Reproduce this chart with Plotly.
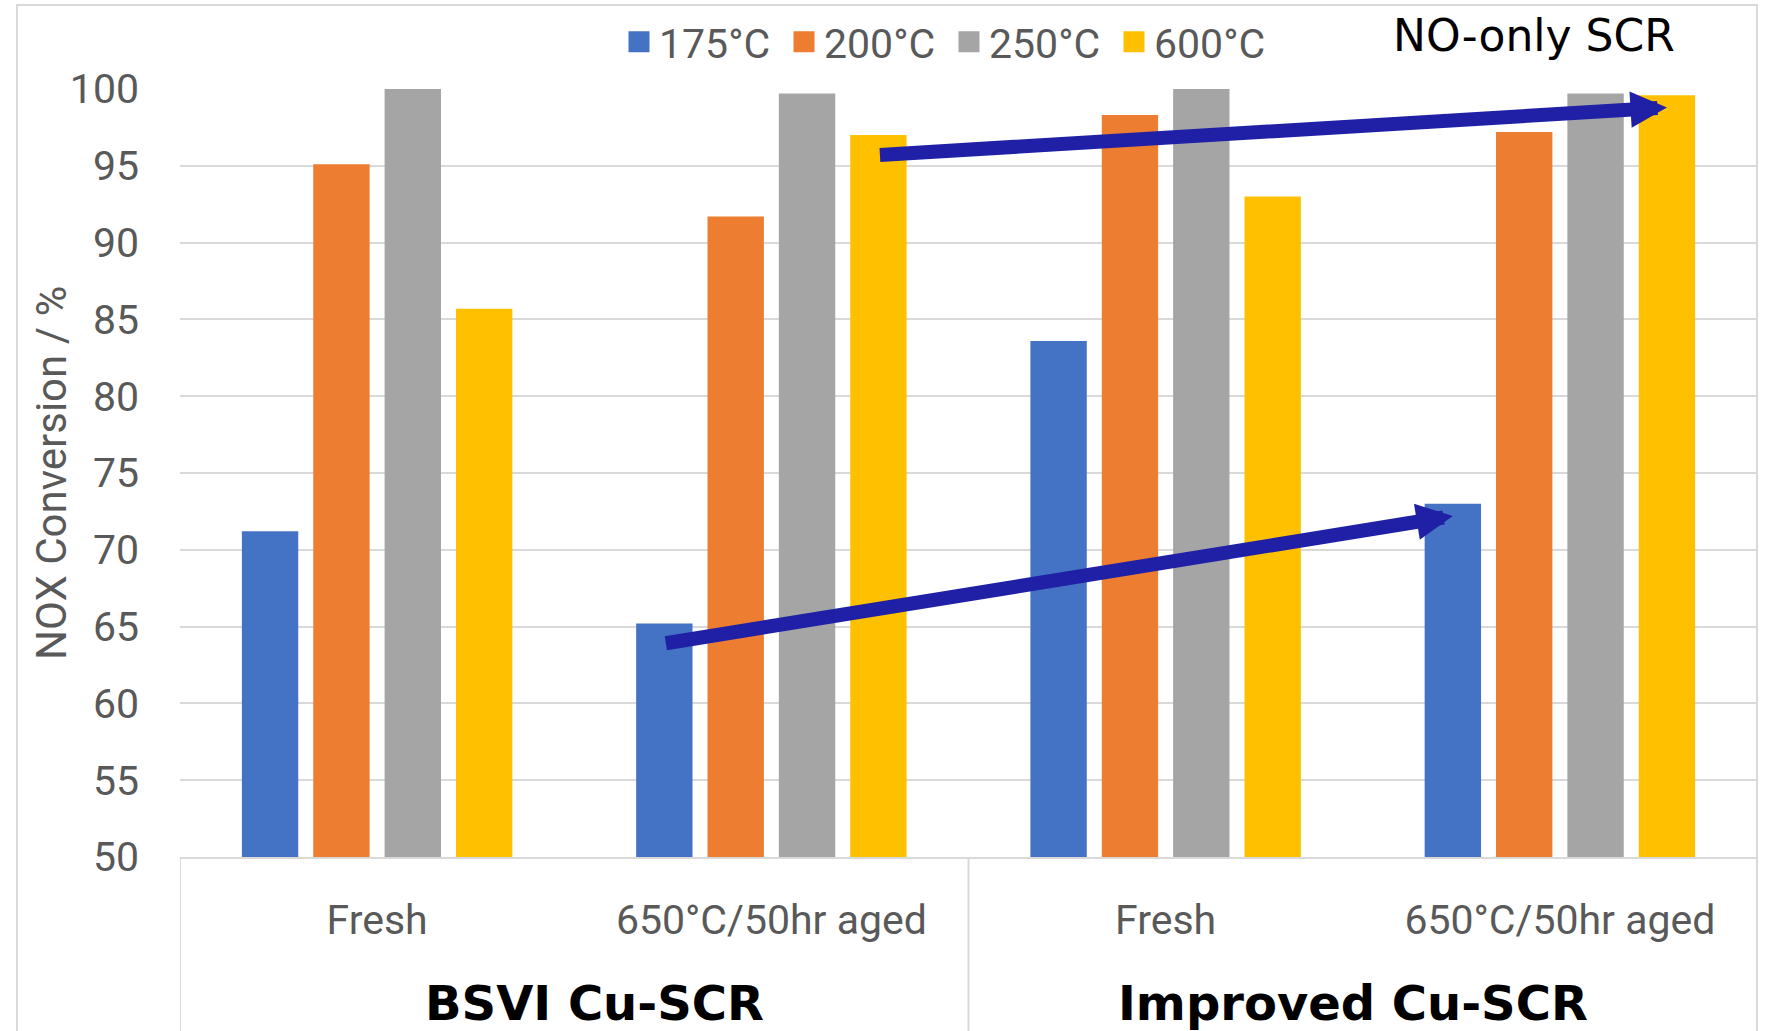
import plotly.graph_objects as go

# ---- data -------------------------------------------------------------
groups = ["BSVI Cu-SCR", "Improved Cu-SCR"]
conditions = ["Fresh", "650°C/50hr aged", "Fresh", "650°C/50hr aged"]
group_index = [0, 0, 1, 1]

temps = ["175°C", "200°C", "250°C", "600°C"]
conv_175 = [71.2, 65.2, 83.6, 73.0]
conv_200 = [95.1, 91.7, 98.3, 97.2]
conv_250 = [100.0, 99.7, 100.0, 99.7]
conv_600 = [85.7, 97.0, 93.0, 99.6]
series = [conv_175, conv_200, conv_250, conv_600]

colors = ["#4472C4", "#ED7D31", "#A5A5A5", "#FFC000"]

# trend arrows: (series index, from condition, to condition)
trend_arrows = [(3, 1, 3), (0, 1, 3)]

# ---- styling ----------------------------------------------------------
W, H = 1765, 1031
M_L, M_R, M_T, M_B = 180, 8, 89, 174
TXT = "#595959"
GRID = "#D9D9D9"
ARROW = "#1F20A6"
BASE_FONT = "Roboto, Carlito, 'Liberation Sans', sans-serif"
BOLD_FONT = "'DejaVu Sans', Verdana, sans-serif"
BARGAP, GROUPGAP = 0.276, 0.21

plot_w = W - M_L - M_R
plot_h = H - M_T - M_B

x_idx = list(range(len(conditions)))

fig = go.Figure()
for name, vals, col in zip(temps, series, colors):
    fig.add_trace(go.Bar(
        x=x_idx, y=vals, name=name, legendgroup=name, showlegend=False,
        marker=dict(color=col, line=dict(width=0)),
    ))
# legend keys: larger square swatches tied to each bar series
for name, col in zip(temps, colors):
    fig.add_trace(go.Scatter(
        x=[None], y=[None], mode="markers", name=name, legendgroup=name,
        marker=dict(symbol="square", size=16, color=col,
                    line=dict(color=col, width=5)),
        hoverinfo="skip",
    ))

# centre offset of each series' bar inside its category slot
slot = (1 - BARGAP) / len(series)


def bar_center(s, i):
    return x_idx[i] + (s - (len(series) - 1) / 2) * slot


annotations = []
for s, i0, i1 in trend_arrows:
    annotations.append(dict(
        x=bar_center(s, i1), y=series[s][i1] - 0.8,
        ax=bar_center(s, i0), ay=series[s][i0] - 1.3,
        xref="x", yref="y", axref="x", ayref="y",
        text="", showarrow=True, arrowhead=2, arrowsize=0.52,
        arrowwidth=14, arrowcolor=ARROW, standoff=0,
    ))

# outer group labels beneath the condition labels
group_shift = [20, -10]
for g, gname in enumerate(groups):
    members = [x_idx[i] for i in range(len(conditions)) if group_index[i] == g]
    annotations.append(dict(
        x=sum(members) / len(members), y=-(146 / plot_h),
        xref="x", yref="paper", xshift=group_shift[g],
        text="<b>" + gname + "</b>", showarrow=False,
        xanchor="center", yanchor="middle",
        font=dict(family=BOLD_FONT, size=48, color="#000000"),
    ))

annotations.append(dict(
    x=(1534 - M_L) / plot_w, y=1 + (M_T - 36) / plot_h,
    xref="paper", yref="paper", text="NO-only SCR", showarrow=False,
    xanchor="center", yanchor="middle",
    font=dict(family=BOLD_FONT, size=44, color="#000000"),
))

# y-axis title
annotations.append(dict(
    x=(51 - M_L) / plot_w, y=0.5, xref="paper", yref="paper",
    text="NOX Conversion / %", textangle=-90, showarrow=False,
    xanchor="center", yanchor="middle",
    font=dict(family=BASE_FONT, size=42, color=TXT),
))

# group dividers on the category axis
shapes = []
bounds = [-0.5]
for i in range(1, len(conditions)):
    if group_index[i] != group_index[i - 1]:
        bounds.append(x_idx[i] - 0.5)
bounds.append(x_idx[-1] + 0.5)
for b in bounds:
    shapes.append(dict(type="line", xref="x", yref="paper",
                       x0=b, x1=b, y0=0, y1=-0.3,
                       line=dict(color=GRID, width=2)))

# chart frame
shapes.append(dict(type="rect", xref="paper", yref="paper",
                   x0=(17 - M_L) / plot_w, x1=1.0,
                   y0=-0.3, y1=1 + (M_T - 5) / plot_h,
                   line=dict(color=GRID, width=2), layer="below"))

fig.update_layout(
    width=W, height=H, autosize=False,
    margin=dict(l=M_L, r=M_R, t=M_T, b=M_B, pad=0),
    paper_bgcolor="white", plot_bgcolor="white",
    barmode="group", bargap=BARGAP, bargroupgap=GROUPGAP,
    font=dict(family=BASE_FONT, size=41, color=TXT),
    showlegend=True,
    legend=dict(
        orientation="h", x=(627 - 8 - M_L) / plot_w, xanchor="left",
        y=1 + (M_T - 42) / plot_h, yanchor="middle",
        font=dict(family=BASE_FONT, size=41, color=TXT),
        itemwidth=30, entrywidth=120, entrywidthmode="pixels",
        bgcolor="rgba(0,0,0,0)", traceorder="normal",
    ),
    xaxis=dict(
        range=[-0.5, len(conditions) - 0.5],
        tickmode="array", tickvals=x_idx, ticktext=conditions,
        showgrid=False, zeroline=False,
        showline=True, linecolor=GRID, linewidth=2,
        ticks="", ticklabelstandoff=26,
        tickfont=dict(family=BASE_FONT, size=41, color=TXT),
    ),
    yaxis=dict(
        range=[50, 100], tick0=50, dtick=5,
        showgrid=True, gridcolor=GRID, gridwidth=2,
        zeroline=False, showline=False, ticks="",
        ticklabelstandoff=40,
        tickfont=dict(family=BASE_FONT, size=41, color=TXT),
    ),
    annotations=annotations,
    shapes=shapes,
)

fig.write_html("out.html")
